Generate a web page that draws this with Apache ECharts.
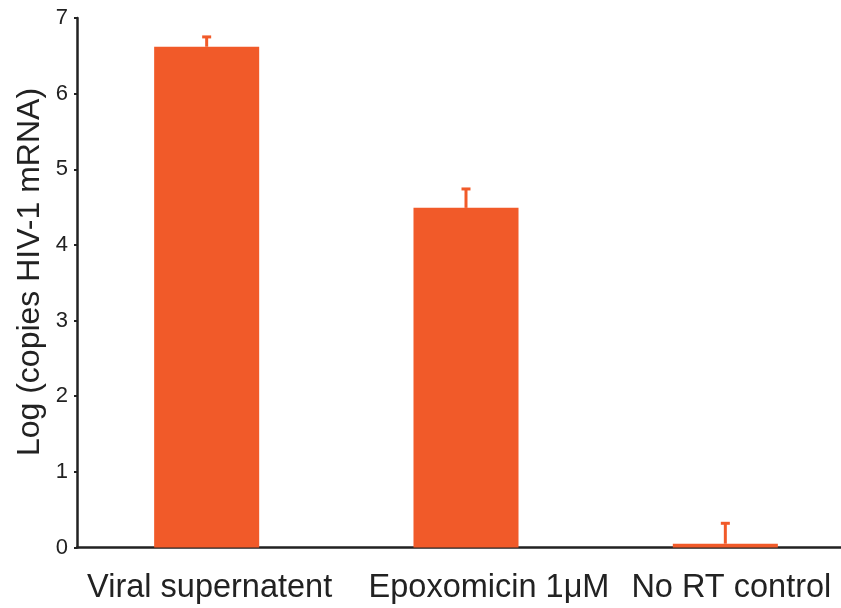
<!DOCTYPE html>
<html>
<head>
<meta charset="utf-8">
<script src="https://cdn.jsdelivr.net/npm/echarts@6/dist/echarts.min.js"></script>
<style>
html,body{margin:0;padding:0;background:#fff;}
#chart{width:841px;height:608px;}
</style>
</head>
<body>
<div id="chart"></div>
<script>
// Log copies of HIV-1 mRNA per condition, with upper error bars
const categories = ['Viral supernatent', 'Epoxomicin 1μM', 'No RT control'];
const means = [6.62, 4.49, 0.05];
const upperErrors = [6.75, 4.74, 0.32];
const yTicks = [0, 1, 2, 3, 4, 5, 6, 7];
const yTitle = 'Log (copies HIV-1 mRNA)';

const barColor = '#f15a29';
const inkColor = '#222222';
const font = 'Liberation Sans, Arial, sans-serif';

// the middle label sits a little to the right of its bar
const labelShift = [6, 46, 12];

const chart = echarts.init(document.getElementById('chart'), null, { renderer: 'canvas' });

chart.setOption({
  animation: false,
  backgroundColor: '#ffffff',
  grid: {
    left: 77, top: 18, width: 778, bottom: 60.5,
    containLabel: false,
    outerBoundsMode: 'none'
  },
  xAxis: {
    type: 'category',
    data: categories.map((c, i) => ({
      value: c,
      textStyle: { padding: [0, 0, 0, labelShift[i]] }
    })),
    axisLine: { show: true, lineStyle: { color: inkColor, width: 2.5 } },
    axisTick: { show: false },
    axisLabel: {
      color: inkColor,
      fontFamily: font,
      fontSize: 32.5,
      margin: 24,
      interval: 0
    }
  },
  yAxis: {
    type: 'value',
    min: yTicks[0],
    max: yTicks[yTicks.length - 1],
    interval: 1,
    splitLine: { show: false },
    axisLine: { show: true, lineStyle: { color: inkColor, width: 2.5 } },
    axisTick: { show: true, inside: false, length: 3, lineStyle: { color: inkColor, width: 2 } },
    axisLabel: {
      color: inkColor,
      fontFamily: font,
      fontSize: 22,
      margin: 9
    }
  },
  graphic: [
    {
      type: 'text',
      x: 30,
      y: 272,
      rotation: Math.PI / 2,
      style: {
        text: yTitle,
        fill: inkColor,
        font: '32px ' + font,
        align: 'center',
        verticalAlign: 'middle'
      }
    }
  ],
  series: [
    {
      type: 'bar',
      data: means,
      barWidth: '40.5%',
      itemStyle: { color: barColor },
      z: 2
    },
    {
      type: 'custom',
      data: categories.map((c, i) => [i, means[i], upperErrors[i]]),
      z: 3,
      renderItem: function (params, api) {
        const base = api.coord([api.value(0), api.value(1)]);
        const top = api.coord([api.value(0), api.value(2)]);
        const half = 4.5;
        const style = { stroke: barColor, lineWidth: 3, fill: null };
        return {
          type: 'group',
          children: [
            { type: 'line', shape: { x1: base[0], y1: base[1], x2: top[0], y2: top[1] }, style: style },
            { type: 'line', shape: { x1: top[0] - half, y1: top[1], x2: top[0] + half, y2: top[1] }, style: style }
          ]
        };
      }
    }
  ]
});
</script>
</body>
</html>
